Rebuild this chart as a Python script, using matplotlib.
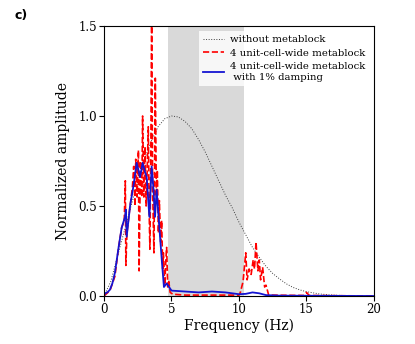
import matplotlib
matplotlib.use("Agg")
import matplotlib.pyplot as plt

# dotted reference curve, no metablock
ref_freq = [0, 0.5, 1, 1.5, 2, 2.5, 3, 3.5, 4, 4.5, 5, 5.5, 6, 6.5, 7, 7.5, 8, 8.5,
            9, 9.5, 10, 10.5, 11, 11.5, 12, 12.5, 13, 13.5, 14, 14.5, 15, 16, 17, 18, 20]
ref_amp = [0, 0.08, 0.22, 0.36, 0.5, 0.63, 0.76, 0.86, 0.94, 0.985, 1.0, 0.995, 0.97,
           0.93, 0.87, 0.8, 0.72, 0.64, 0.56, 0.49, 0.41, 0.34, 0.27, 0.215, 0.165,
           0.125, 0.095, 0.068, 0.048, 0.034, 0.024, 0.011, 0.005, 0.002, 0.0]

# 4 unit-cell-wide metablock
meta_freq = [0, 0.44, 0.81, 1.06, 1.31, 1.5, 1.58, 1.62, 1.7, 1.9, 2.1, 2.2, 2.3, 2.35,
             2.45, 2.55, 2.6, 2.7, 2.8, 2.86, 2.95, 3.04, 3.12, 3.2, 3.28, 3.35, 3.4,
             3.47, 3.53, 3.6, 3.7, 3.8, 3.88, 3.95, 4.03, 4.1, 4.2, 4.27, 4.35, 4.4,
             4.5, 4.58, 4.64, 4.72, 4.8, 4.9, 5.1, 6, 8, 10.0, 10.1, 10.3, 10.5, 10.6,
             10.75, 10.9, 11.05, 11.15, 11.26, 11.4, 11.5, 11.6, 11.75, 11.9, 12.0,
             12.2, 14.8, 15.0, 15.2, 20]
meta_amp = [0, 0.03, 0.11, 0.26, 0.38, 0.42, 0.64, 0.17, 0.35, 0.48, 0.6, 0.72, 0.5,
            0.76, 0.55, 0.81, 0.14, 0.75, 0.55, 1.0, 0.55, 0.83, 0.5, 0.7, 0.94, 0.45,
            0.26, 0.8, 1.6, 0.6, 0.24, 1.21, 0.55, 0.7, 0.35, 0.53, 0.3, 0.42, 0.15,
            0.24, 0.06, 0.2, 0.27, 0.05, 0.08, 0.02, 0.01, 0.005, 0.005, 0.005, 0.02,
            0.08, 0.24, 0.09, 0.15, 0.12, 0.2, 0.15, 0.30, 0.14, 0.2, 0.09, 0.16, 0.05,
            0.06, 0.005, 0.003, 0.02, 0.003, 0.0]

# 4 unit-cell-wide metablock with 1% damping
damp_freq = [0, 0.07, 0.25, 0.44, 0.62, 0.81, 1.06, 1.31, 1.56, 1.62, 1.68, 1.93, 2.2,
             2.42, 2.55, 2.67, 2.86, 3.0, 3.16, 3.36, 3.53, 3.66, 3.78, 3.9, 4.15,
             4.3, 4.44, 4.64, 5.0, 6, 7, 8, 9, 10, 10.5, 11, 11.5, 12, 13, 20]
damp_amp = [0, 0.015, 0.02, 0.035, 0.07, 0.13, 0.26, 0.38, 0.44, 0.48, 0.33, 0.5, 0.62,
            0.74, 0.7, 0.66, 0.74, 0.7, 0.66, 0.44, 0.72, 0.6, 0.44, 0.59, 0.33, 0.18,
            0.05, 0.07, 0.03, 0.025, 0.02, 0.025, 0.02, 0.01, 0.012, 0.02, 0.015,
            0.005, 0.002, 0.0]

band = (4.75, 10.4)

plt.rcParams['font.family'] = 'DejaVu Serif'

fig = plt.figure(figsize=(4.15, 3.44), dpi=100)
ax = fig.add_axes([0.2506, 0.1395, 0.6506, 0.7849])

ax.axvspan(band[0], band[1], color='#d9d9d9', lw=0, zorder=0)
ax.plot(ref_freq, ref_amp, ':', color='0.25', lw=0.7, label='without metablock')
ax.plot(meta_freq, meta_amp, '--', color='red', lw=1.2, label='4 unit-cell-wide metablock')
ax.plot(damp_freq, damp_amp, '-', color='#1414d2', lw=1.3,
        label='4 unit-cell-wide metablock\n with 1% damping')

ax.set_xlim(0, 20)
ax.set_ylim(0, 1.5)
ax.set_xticks([0, 5, 10, 15, 20])
ax.set_yticks([0.0, 0.5, 1.0, 1.5])
ax.tick_params(labelsize=8.5, length=3.5, pad=1.5)
ax.set_xlabel('Frequency (Hz)', fontsize=10, labelpad=2)
ax.set_ylabel('Normalized amplitude', fontsize=10, labelpad=6)

leg = ax.legend(loc='upper right', fontsize=7.3, frameon=True, fancybox=False,
                framealpha=0.8, edgecolor='none', handlelength=2.0,
                labelspacing=0.45, borderpad=0.4, handletextpad=0.6)

fig.text(0.034, 0.955, 'c)', fontsize=9, fontweight='bold', family='DejaVu Sans',
         va='center')

fig.savefig('out.png', dpi=100)
